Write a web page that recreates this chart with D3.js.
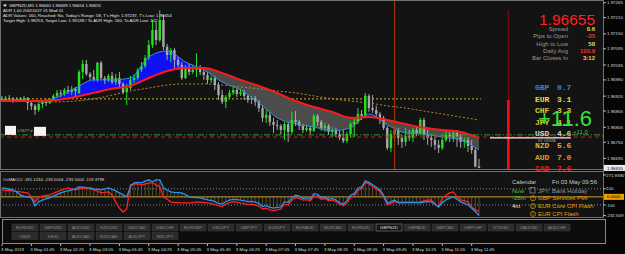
<!DOCTYPE html>
<html>
<head>
<meta charset="utf-8">
<script src="https://cdn.jsdelivr.net/npm/d3@7"></script>
<style>
html, body { margin: 0; padding: 0; background: #050505; overflow: hidden; }
svg { display: block; font-family: "Liberation Sans", Arial, sans-serif; }
</style>
</head>
<body>
<div id="chart"></div>
<script>
// ---- data (GBPNZD M5, 3 May 2019) ----
const opens = [1.96910,1.96906,1.96913,1.96910,1.96902,1.96910,1.96906,1.96913,1.96895,1.96884,
1.96869,1.96891,1.96899,1.96895,1.96906,1.96921,1.96932,1.96928,1.96943,1.96935,
1.96947,1.96932,1.97009,1.97039,1.97002,1.96991,1.96980,1.97043,1.96987,1.96980,
1.96995,1.96972,1.96987,1.96965,1.96935,1.96950,1.96980,1.96987,1.97017,1.97031,
1.97061,1.97109,1.97164,1.97127,1.97201,1.97102,1.97072,1.97090,1.97054,1.97035,
1.96987,1.97028,1.97009,1.97017,1.97024,1.97009,1.96998,1.96980,1.96987,1.96961,
1.96924,1.96899,1.96917,1.96932,1.96943,1.96928,1.96935,1.96921,1.96906,1.96913,
1.96899,1.96876,1.96840,1.96851,1.96825,1.96814,1.96810,1.96795,1.96817,1.96788,
1.96832,1.96825,1.96810,1.96795,1.96803,1.96792,1.96847,1.96825,1.96803,1.96810,
1.96788,1.96795,1.96780,1.96766,1.96755,1.96780,1.96817,1.96825,1.96854,1.96847,
1.96921,1.96876,1.96869,1.96854,1.96840,1.96803,1.96729,1.96780,1.96795,1.96766,
1.96751,1.96773,1.96766,1.96795,1.96784,1.96832,1.96777,1.96766,1.96758,1.96740,
1.96729,1.96758,1.96777,1.96766,1.96784,1.96769,1.96751,1.96758,1.96736,1.96721,
1.96660];
const highs = [1.96921,1.96921,1.96924,1.96917,1.96917,1.96917,1.96921,1.96917,1.96902,1.96891,
1.96895,1.96906,1.96910,1.96913,1.96928,1.96943,1.96943,1.96950,1.96958,1.96958,
1.96954,1.97017,1.97054,1.97054,1.97009,1.97017,1.97046,1.97050,1.96995,1.97002,
1.97009,1.97002,1.97009,1.96972,1.96965,1.96995,1.97002,1.97024,1.97046,1.97072,
1.97127,1.97201,1.97194,1.97237,1.97220,1.97113,1.97098,1.97098,1.97065,1.97046,
1.97035,1.97039,1.97031,1.97079,1.97035,1.97017,1.97009,1.96995,1.96995,1.96972,
1.96943,1.96924,1.96943,1.96954,1.96950,1.96947,1.96943,1.96928,1.96921,1.96921,
1.96906,1.96887,1.96869,1.96862,1.96840,1.96832,1.96817,1.96825,1.96825,1.96862,
1.96865,1.96832,1.96817,1.96814,1.96810,1.96854,1.96854,1.96832,1.96821,1.96817,
1.96806,1.96803,1.96792,1.96795,1.96788,1.96825,1.96840,1.96876,1.96869,1.96932,
1.96928,1.96924,1.96884,1.96862,1.96847,1.96810,1.96795,1.96810,1.96803,1.96777,
1.96803,1.96795,1.96803,1.96810,1.96840,1.96840,1.96795,1.96780,1.96773,1.96758,
1.96777,1.96795,1.96788,1.96792,1.96795,1.96780,1.96769,1.96769,1.96758,1.96729,
1.96689];
const lows = [1.96899,1.96902,1.96902,1.96895,1.96899,1.96899,1.96902,1.96869,1.96869,1.96851,
1.96862,1.96876,1.96884,1.96891,1.96902,1.96913,1.96917,1.96921,1.96928,1.96924,
1.96921,1.96928,1.96983,1.96995,1.96980,1.96976,1.96972,1.96980,1.96965,1.96972,
1.96965,1.96961,1.96954,1.96928,1.96887,1.96943,1.96969,1.96980,1.97009,1.97024,
1.97054,1.97098,1.97109,1.97120,1.97090,1.97054,1.97046,1.97024,1.97017,1.96980,
1.96983,1.96998,1.97002,1.96991,1.96998,1.96980,1.96965,1.96969,1.96943,1.96906,
1.96891,1.96876,1.96910,1.96924,1.96917,1.96921,1.96906,1.96895,1.96891,1.96884,
1.96862,1.96825,1.96821,1.96810,1.96784,1.96795,1.96777,1.96758,1.96751,1.96780,
1.96810,1.96795,1.96784,1.96788,1.96780,1.96788,1.96810,1.96792,1.96788,1.96777,
1.96769,1.96769,1.96758,1.96747,1.96747,1.96766,1.96769,1.96817,1.96832,1.96840,
1.96862,1.96858,1.96840,1.96817,1.96795,1.96721,1.96714,1.96758,1.96740,1.96729,
1.96736,1.96755,1.96751,1.96773,1.96780,1.96758,1.96740,1.96733,1.96721,1.96710,
1.96721,1.96751,1.96751,1.96751,1.96733,1.96729,1.96729,1.96714,1.96707,1.96658,
1.96654];
const closes = [1.96906,1.96913,1.96910,1.96902,1.96910,1.96906,1.96913,1.96895,1.96884,1.96869,
1.96891,1.96899,1.96895,1.96906,1.96921,1.96932,1.96928,1.96943,1.96935,1.96947,
1.96939,1.97009,1.97039,1.97002,1.96991,1.96980,1.97043,1.96987,1.96980,1.96995,
1.96972,1.96987,1.96965,1.96935,1.96950,1.96980,1.96987,1.97017,1.97031,1.97061,
1.97109,1.97164,1.97127,1.97201,1.97102,1.97072,1.97090,1.97054,1.97035,1.96987,
1.97028,1.97009,1.97017,1.97024,1.97009,1.96998,1.96980,1.96987,1.96961,1.96924,
1.96899,1.96917,1.96932,1.96943,1.96928,1.96935,1.96921,1.96906,1.96913,1.96899,
1.96876,1.96840,1.96851,1.96825,1.96814,1.96810,1.96795,1.96817,1.96788,1.96832,
1.96825,1.96810,1.96795,1.96803,1.96792,1.96847,1.96825,1.96803,1.96810,1.96788,
1.96795,1.96780,1.96766,1.96755,1.96780,1.96817,1.96825,1.96854,1.96847,1.96921,
1.96876,1.96869,1.96854,1.96840,1.96803,1.96729,1.96780,1.96795,1.96766,1.96751,
1.96773,1.96766,1.96795,1.96784,1.96832,1.96777,1.96766,1.96758,1.96740,1.96729,
1.96758,1.96777,1.96766,1.96784,1.96769,1.96751,1.96758,1.96736,1.96721,1.96660,
1.96655];

// moving averages, read every 5 bars
const maIdx = [0,5,10,15,20,25,30,35,40,45,50,55,60,65,70,75,80,85,90,95,100,105,110,115,120,125,130];
const fastMA = [1.96906,1.96906,1.96899,1.96917,1.96950,1.96980,1.96980,1.96987,1.97065,1.97087,1.97046,1.97017,1.96972,1.96943,1.96895,1.96840,1.96817,1.96806,1.96792,1.96803,1.96854,1.96814,1.96784,1.96780,1.96769,1.96758,1.96721];
const slowMA = [1.96902,1.96902,1.96902,1.96906,1.96917,1.96932,1.96947,1.96958,1.96987,1.97013,1.97024,1.97024,1.97006,1.96980,1.96958,1.96932,1.96902,1.96880,1.96862,1.96840,1.96843,1.96832,1.96817,1.96803,1.96795,1.96788,1.96766];
const longIdx = [10,15,20,25,30,35,40,45,50,55,60,65,70,75,80,85,90,95,100,105,110,115,120,125,130];
const longMA = [1.96899,1.96899,1.96902,1.96910,1.96924,1.96939,1.96950,1.96961,1.96965,1.96965,1.96961,1.96954,1.96947,1.96939,1.96932,1.96921,1.96910,1.96902,1.96895,1.96884,1.96876,1.96865,1.96854,1.96843,1.96832];

// CCI sub window, one value per bar
const cciMain = [112,105,95,88,60,25,10,0,-12,-112,
-62,-40,-25,-12,10,30,50,65,75,88,
100,125,120,115,112,100,95,88,100,112,
95,75,50,25,0,125,175,180,175,195,
212,188,212,212,112,85,62,55,52,50,
30,0,-5,-10,-12,-25,-38,-45,-60,-80,
-90,-60,-40,-30,-35,-40,-50,-60,-55,-65,
-80,-120,-110,-130,-140,-130,-125,-60,-70,-10,
20,10,-20,-10,-30,40,30,-10,0,-30,
-20,-40,-70,-90,-50,20,40,110,120,200,
180,150,120,90,20,-80,-60,-40,-75,-75,
-70,-65,-70,-72,-75,-65,-60,-62,-90,-125,
-70,-38,-15,0,-30,-62,-80,-100,-140,-181,
-232];
const cciSignal = [88,82,78,75,68,62,55,50,0,-62,
0,10,20,25,45,62,80,95,112,100,
88,100,110,112,100,88,70,50,55,62,
25,-62,-138,-188,-150,150,160,162,150,160,
170,175,150,125,0,-30,-62,-70,-72,-75,
-75,-75,-70,-62,-65,-70,-75,-85,-95,-110,
-120,-90,-70,-60,-65,-75,-85,-95,-90,-100,
-115,-150,-140,-160,-170,-160,-150,-90,-100,-40,
-10,-20,-40,-35,-50,10,0,-30,-20,-50,
-40,-60,-90,-110,-80,-10,10,80,100,180,
160,130,100,70,0,-100,-80,-60,-62,-65,
-70,-75,-70,-65,-62,-50,-40,-38,-90,-125,
-12,20,50,62,0,-38,-50,-62,-125,-160,
-181];
const cciLevels = [100, -100];
const cciAxis = ["271.9390", "100", "-100", "-232.569"];
const cciAxisVals = [271.939, 100, -100, -232.569];
const cciTitle = "OsMACCI  -181.1234 -233.5004 -233.5004 -119.3798";

const priceTicks = [1.97265,1.97210,1.97150,1.97095,1.97035,1.96980,1.96920,1.96865,1.96805,1.96750,1.96690];
const timeIdx = [0,8,16,24,32,40,48,56,64,72,80,88,96,104,112,120,128];
const timeLabels = ["3 May 2019","3 May 01:45","3 May 02:25","3 May 03:05","3 May 03:45","3 May 04:25",
  "3 May 05:05","3 May 05:45","3 May 06:25","3 May 07:05","3 May 07:45","3 May 08:25","3 May 09:05",
  "3 May 09:45","3 May 10:25","3 May 11:05","3 May 11:45"];

const dayLevel = 1.96910;     // yellow dotted
const greenLevel = 1.96777;   // green dash-dot
const redLevel = 1.96769;     // red dashed
const h1Level = 1.96766;      // white H1 line
const sessionBar = 107;
const adrBar = 138;

const infoLabels = ["Spread","Pips to Open","High to Low","Daily Avg","Bar Closes In"];
const infoValues = ["0.6","-35","58","120.9","3:12"];
const infoColors = ["#e8d83a","#ff2a2a","#e8d83a","#ff2a2a","#e8d83a"];

const currencies = ["GBP","EUR","CHF","JPY","USD","NZD","AUD","CAD"];
const strength = [0.7,3.1,3.3,4.1,4.6,5.6,7.0,7.6];
const curColors = ["#3a7fe0","#e6dc3c","#d8cf3a","#d8cf3a","#d0d0d0","#e0a838","#e09a28","#e82020"];

const calTimes = ["Now","-28m","4m",""];
const calEvents = ["JPY: Bank Holiday","GBP Services PMI","EUR Core CPI Flash","EUR CPI Flash"];

const symbolsRow1 = ["EURUSD","GBPUSD","AUDUSD","NZDUSD","USDCAD","USDCHF","EURGBP","USDJPY","GBPJPY","EURJPY",
  "EURAUD","EURCAD","EURNZD","GBPNZD","GBPAUD","GBPCAD","GBPCHF","XTIUSD","XAUUSD","AUDCHF"];
const symbolsRow2 = ["US30","DE30","AUDCAD","NZDCAD","AUDJPY","NZDJPY"];

// ---- layout ----
const W = 625, H = 254;
const plotRight = 603;
const mainBot = 169;
const subTop = 171, subBot = 217;

const x = d3.scaleLinear().domain([0, 130]).range([2, 479]);
const y = d3.scaleLinear().domain([1.96651, 1.97275]).range([169, 0]);
const yc = d3.scaleLinear().domain([-232.569, 271.939]).range([215.6, 175]);

const svg = d3.select("#chart").append("svg")
    .attr("width", W)
    .attr("height", H);

svg.append("rect").attr("width", W).attr("height", H).attr("fill", "#050505");

const defs = svg.append("defs");
defs.append("clipPath").attr("id", "clipMain")
  .append("rect").attr("x", 1).attr("y", 1).attr("width", plotRight - 1).attr("height", mainBot - 1);
defs.append("clipPath").attr("id", "clipSub")
  .append("rect").attr("x", 1).attr("y", subTop + 1).attr("width", plotRight - 1).attr("height", subBot - subTop - 1);

// main panel
svg.append("rect")
    .attr("x", 0.5).attr("y", 0.5)
    .attr("width", plotRight).attr("height", mainBot)
    .attr("fill", "#131313").attr("stroke", "#707070");

const main = svg.append("g").attr("clip-path", "url(#clipMain)");

// horizontal levels
main.append("line")
    .attr("x1", x(0) - 2).attr("x2", x(130) + 2)
    .attr("y1", y(dayLevel)).attr("y2", y(dayLevel))
    .attr("stroke", "#c8b428").attr("stroke-width", 1).attr("stroke-dasharray", "2,2");

// fast / slow MA cloud
const maPts = maIdx.map((b, k) => ({b: b, f: fastMA[k], s: slowMA[k]}));
const between = d3.area().x(d => x(d.b)).y0(d => y(d.s)).y1(d => y(d.f)).curve(d3.curveMonotoneX);
const above = d3.area().x(d => x(d.b)).y0(0).y1(d => y(d.s)).curve(d3.curveMonotoneX);
const below = d3.area().x(d => x(d.b)).y0(mainBot).y1(d => y(d.s)).curve(d3.curveMonotoneX);
defs.append("clipPath").attr("id", "clipAbove").append("path").attr("d", above(maPts));
defs.append("clipPath").attr("id", "clipBelow").append("path").attr("d", below(maPts));

main.append("g").attr("clip-path", "url(#clipAbove)")
  .append("path").attr("d", between(maPts)).attr("fill", "#1010f5");
main.append("g").attr("clip-path", "url(#clipBelow)")
  .append("path").attr("d", between(maPts)).attr("fill", "#4c4c4c");

// long MA (dotted)
const longPts = longIdx.map((b, k) => ({b: b, v: longMA[k]}));
main.append("path")
    .attr("d", d3.line().x(d => x(d.b)).y(d => y(d.v)).curve(d3.curveMonotoneX)(longPts))
    .attr("fill", "none").attr("stroke", "#b8862a").attr("stroke-width", 1)
    .attr("stroke-dasharray", "2,2");

// candles
const bars = d3.range(closes.length);
const candle = main.selectAll("g.candle").data(bars).enter().append("g");
candle.append("line")
    .attr("x1", i => x(i)).attr("x2", i => x(i))
    .attr("y1", i => y(highs[i])).attr("y2", i => y(lows[i]))
    .attr("stroke", i => closes[i] >= opens[i] ? "#1ee61e" : "#a8a8a8")
    .attr("stroke-width", 1);
candle.append("rect")
    .attr("x", i => x(i) - 1.2)
    .attr("width", 2.4)
    .attr("y", i => y(Math.max(opens[i], closes[i])))
    .attr("height", i => Math.max(0.8, Math.abs(y(opens[i]) - y(closes[i]))))
    .attr("fill", i => closes[i] >= opens[i] ? "#1ee61e" : "#a8a8a8");

// fast MA edge and slow MA
main.append("path")
    .attr("d", d3.line().x(d => x(d.b)).y(d => y(d.f)).curve(d3.curveMonotoneX)(maPts))
    .attr("fill", "none").attr("stroke", "#3592d0").attr("stroke-width", 1);
main.append("path")
    .attr("d", d3.line().x(d => x(d.b)).y(d => y(d.s)).curve(d3.curveMonotoneX)(maPts))
    .attr("fill", "none").attr("stroke", "#ff1a1a").attr("stroke-width", 2);

// full-width levels
main.append("line")
    .attr("x1", 0).attr("x2", plotRight)
    .attr("y1", y(greenLevel)).attr("y2", y(greenLevel))
    .attr("stroke", "#2f9a2f").attr("stroke-dasharray", "6,2,1,2");
main.append("line")
    .attr("x1", 0).attr("x2", plotRight)
    .attr("y1", y(redLevel)).attr("y2", y(redLevel))
    .attr("stroke", "#c42020").attr("stroke-dasharray", "4,3");

// session separator and ADR bar
main.append("line")
    .attr("x1", x(sessionBar)).attr("x2", x(sessionBar))
    .attr("y1", 1).attr("y2", mainBot)
    .attr("stroke", "#b0380f").attr("stroke-width", 1);
main.append("line")
    .attr("x1", x(adrBar)).attr("x2", x(adrBar))
    .attr("y1", 10).attr("y2", mainBot)
    .attr("stroke", "#8a0c0c").attr("stroke-width", 1);
main.append("line")
    .attr("x1", x(adrBar)).attr("x2", x(adrBar))
    .attr("y1", 100).attr("y2", mainBot)
    .attr("stroke", "#ff1010").attr("stroke-width", 2.5);

// H1 line
main.append("line")
    .attr("x1", x(133)).attr("x2", x(155))
    .attr("y1", y(h1Level)).attr("y2", y(h1Level))
    .attr("stroke", "#f0f0f0").attr("stroke-width", 1.3);
main.append("text")
    .attr("x", x(146)).attr("y", y(h1Level) + 4.5)
    .attr("font-size", 4).attr("fill", "#9a9a9a")
    .text("H1 LWMA");

// left labels on the green level
const gl = y(greenLevel);
main.append("rect").attr("x", 5).attr("y", gl - 9).attr("width", 11).attr("height", 9).attr("fill", "#f4f4f4");
main.append("rect").attr("x", 34).attr("y", gl - 8).attr("width", 12).attr("height", 9).attr("fill", "#f4f4f4");
main.append("text").attr("x", 17).attr("y", gl - 3).attr("font-size", 4).attr("fill", "#b0b0b0").text("1.9677 d");

// top-left header
const hdr = svg.append("g").attr("font-size", 4.3).attr("fill", "#e6e6e6");
hdr.append("path").attr("d", "M3,4.5 L7,4.5 L5,7 Z").attr("fill", "#e6e6e6");
hdr.append("text").attr("x", 9).attr("y", 7)
   .text("GBPNZD,M5  " + opens[130].toFixed(5) + " " + highs[130].toFixed(5) + " " + lows[130].toFixed(5) + " " + closes[130].toFixed(5));
hdr.append("text").attr("x", 3).attr("y", 12).text("ADR 1.00 20051027 01 Mod 01");
hdr.append("text").attr("x", 3).attr("y", 17)
   .text("ADR Values: 160, Reached: No, Today's Range: 58, T's High: 1.97237, T's Low: 1.96654");
hdr.append("text").attr("x", 3).attr("y", 22)
   .text("Target High: 1.98253, Target Low: 1.95538 / To ADR High: 160, To ADR Low: 102");

// right info block
svg.append("text")
    .attr("x", 595).attr("y", 25).attr("text-anchor", "end")
    .attr("font-size", 15.5).attr("fill", "#ff2020")
    .text(closes[130].toFixed(5));
infoLabels.forEach((t, k) => {
  svg.append("text").attr("x", 568).attr("y", 31 + k * 7.3).attr("text-anchor", "end")
     .attr("font-size", 6).attr("fill", "#9a9a9a").text(t);
  svg.append("text").attr("x", 595).attr("y", 31 + k * 7.3).attr("text-anchor", "end")
     .attr("font-size", 6).attr("font-weight", "bold").attr("fill", infoColors[k]).text(infoValues[k]);
});

// currency strength (the big +11.6 sits over it, as in the terminal)
const cs = svg.append("g").attr("font-family", "'Liberation Mono', monospace").attr("font-weight", "bold").attr("font-size", 8);
currencies.forEach((c, k) => {
  cs.append("text").attr("x", 535).attr("y", 90 + k * 11.6).attr("fill", curColors[k]).text(c);
  cs.append("text").attr("x", 557).attr("y", 90 + k * 11.6).attr("fill", curColors[k]).text(strength[k].toFixed(1));
});
svg.append("text").attr("x", 538).attr("y", 126).attr("font-size", 22).attr("fill", "#38e038").text("+11.6");
svg.append("text").attr("x", 573).attr("y", 134).attr("font-size", 6).attr("fill", "#38c838").text("+11.0");

// price axis
svg.append("line").attr("x1", plotRight + 0.5).attr("x2", plotRight + 0.5).attr("y1", 0).attr("y2", subBot)
   .attr("stroke", "#707070");
const pax = svg.append("g").attr("font-size", 4.4).attr("fill", "#dcdcdc");
priceTicks.forEach(p => {
  pax.append("line").attr("x1", plotRight).attr("x2", plotRight + 3).attr("y1", y(p)).attr("y2", y(p)).attr("stroke", "#bbb");
  pax.append("text").attr("x", 607).attr("y", y(p) + 1.6).text(p.toFixed(5));
});
svg.append("rect").attr("x", 604).attr("y", y(closes[130]) - 3).attr("width", 21).attr("height", 6).attr("fill", "#ececec");
svg.append("text").attr("x", 607).attr("y", y(closes[130]) + 1.6).attr("font-size", 4.4).attr("fill", "#000")
   .text(closes[130].toFixed(5));

// ---- CCI sub window ----
svg.append("rect")
    .attr("x", 0.5).attr("y", subTop + 0.5)
    .attr("width", plotRight).attr("height", subBot - subTop)
    .attr("fill", "#131313").attr("stroke", "#707070");
const sub = svg.append("g").attr("clip-path", "url(#clipSub)");
cciLevels.forEach(v => {
  sub.append("line").attr("x1", 0).attr("x2", plotRight).attr("y1", yc(v)).attr("y2", yc(v))
     .attr("stroke", "#8a8a8a").attr("stroke-dasharray", "1,2");
});
sub.selectAll("line.hist").data(bars).enter().append("line")
    .attr("x1", i => x(i)).attr("x2", i => x(i))
    .attr("y1", yc(0)).attr("y2", i => yc(cciMain[i]))
    .attr("stroke", "#857638").attr("stroke-width", 0.6);
sub.append("line").attr("x1", 0).attr("x2", plotRight).attr("y1", yc(0)).attr("y2", yc(0))
   .attr("stroke", "#c8a030").attr("stroke-width", 1);
sub.append("path")
    .attr("d", d3.line().x(i => x(i)).y(i => yc(cciSignal[i]))(bars))
    .attr("fill", "none").attr("stroke", "#ff2020").attr("stroke-width", 1.3);
sub.append("path")
    .attr("d", d3.line().x(i => x(i)).y(i => yc(cciMain[i]))(bars))
    .attr("fill", "none").attr("stroke", "#2a92f0").attr("stroke-width", 1.3);
svg.append("text").attr("x", 3).attr("y", 181).attr("font-size", 4.3).attr("fill", "#dcdcdc").text(cciTitle);

const sax = svg.append("g").attr("font-size", 4.4).attr("fill", "#dcdcdc");
cciAxisVals.forEach((v, k) => {
  sax.append("line").attr("x1", plotRight).attr("x2", plotRight + 3).attr("y1", yc(v)).attr("y2", yc(v)).attr("stroke", "#bbb");
  sax.append("text").attr("x", 606).attr("y", yc(v) + 1.6).text(cciAxis[k]);
});
svg.append("rect").attr("x", 604).attr("y", yc(0) - 3).attr("width", 20).attr("height", 6).attr("fill", "#e8a000");
svg.append("text").attr("x", 607).attr("y", yc(0) + 1.6).attr("font-size", 4.4).attr("fill", "#000").text("0.0000");

// calendar
const cal = svg.append("g").attr("font-size", 6);
cal.append("text").attr("x", 512).attr("y", 184).attr("fill", "#c8c8c8").text("Calendar");
cal.append("text").attr("x", 552).attr("y", 184).attr("fill", "#c8c8c8").text("Fri 03 May 09:56");
calEvents.forEach((e, k) => {
  const by = 192.5 + k * 7.8;
  cal.append("text").attr("x", 512).attr("y", by).attr("fill", k < 2 ? "#3cc83c" : "#e6e6e6").text(calTimes[k]);
  if (k === 0) {
    cal.append("rect").attr("x", 530).attr("y", by - 5).attr("width", 5).attr("height", 5.5)
       .attr("fill", "none").attr("stroke", "#8a9ab0").attr("stroke-width", 0.7);
  } else {
    cal.append("circle").attr("cx", 533).attr("cy", by - 2).attr("r", 2.5)
       .attr("fill", "none").attr("stroke", "#e6a000").attr("stroke-width", 0.7);
    cal.append("text").attr("x", 533).attr("y", by).attr("text-anchor", "middle").attr("font-size", 4.5)
       .attr("fill", "#e6a000").text("!");
  }
  cal.append("text").attr("x", 538).attr("y", by).attr("fill", k === 0 ? "#8a9ab0" : "#e6a000").text(e);
});

// ---- symbol buttons ----
svg.append("rect").attr("x", 2.5).attr("y", 219.5).attr("width", 603).attr("height", 24)
   .attr("fill", "#0c0c0c").attr("stroke", "#8a8a8a");
function buttons(list, top) {
  const g = svg.append("g");
  list.forEach((s, k) => {
    const bx = 12 + k * 28;
    const sel = s === "GBPNZD";
    g.append("rect").attr("x", bx).attr("y", top).attr("width", 26).attr("height", 7)
     .attr("fill", sel ? "#161616" : "#2c2c2c").attr("stroke", sel ? "#9a9a9a" : "#3a3a3a").attr("stroke-width", 0.5);
    g.append("text").attr("x", bx + 13).attr("y", top + 5).attr("text-anchor", "middle")
     .attr("font-size", 4.3).attr("fill", sel ? "#e0e0e0" : "#8c8c8c").text(s);
  });
}
buttons(symbolsRow1, 224);
buttons(symbolsRow2, 232.5);

// time axis
const tax = svg.append("g").attr("font-size", 4.4).attr("fill", "#dcdcdc");
timeIdx.forEach((b, k) => {
  tax.append("line").attr("x1", x(b)).attr("x2", x(b)).attr("y1", 244).attr("y2", 246).attr("stroke", "#bbb");
  tax.append("text").attr("x", x(b) - 1).attr("y", 251).text(timeLabels[k]);
});
</script>
</body>
</html>
